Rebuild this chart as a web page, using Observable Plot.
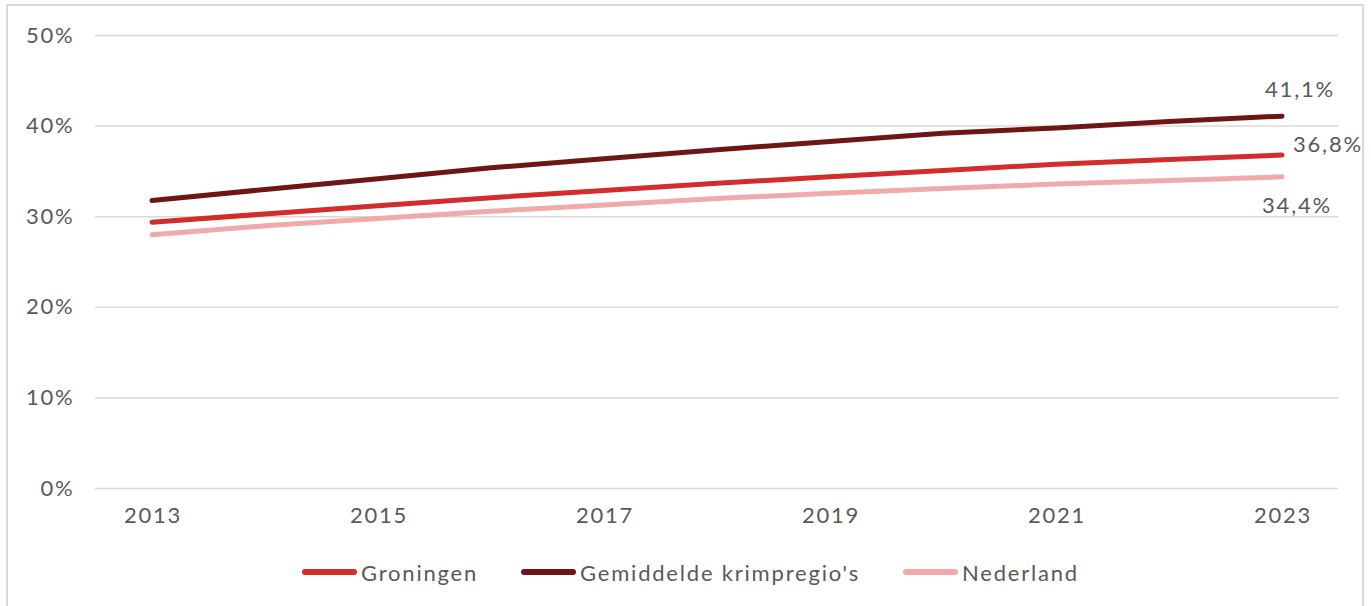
<!DOCTYPE html>
<html>
<head>
<meta charset="utf-8">
<script src="https://cdn.jsdelivr.net/npm/d3@7"></script>
<script src="https://cdn.jsdelivr.net/npm/@observablehq/plot@0.6"></script>
<style>
  html, body { margin: 0; padding: 0; background: #fff; }
  body { width: 1371px; height: 606px; overflow: hidden; position: relative; font-family: "Lato", sans-serif; }
  #frame { position: absolute; left: 6px; top: 4px; width: 1358px; height: 640px; border: 2px solid #d9d9d9; box-sizing: border-box; pointer-events: none; }
  #chart { position: absolute; left: 0; top: 0; }
  #legend { position: absolute; left: 0; top: 558px; width: 1371px; height: 28px; }
  .item { position: absolute; top: 0; height: 28px; display: flex; align-items: center; font-size: 22px; letter-spacing: 1.8px; color: #595959; }
  .sw { width: 55px; height: 6px; border-radius: 3px; margin-right: 4px; }
</style>
</head>
<body>
<div id="frame"></div>
<div id="chart"></div>
<div id="legend"></div>
<script>
const years = [2013, 2014, 2015, 2016, 2017, 2018, 2019, 2020, 2021, 2022, 2023];
const seriesNames = ["Groningen", "Gemiddelde krimpregio's", "Nederland"];
const groningen = [29.4, 30.3, 31.2, 32.1, 32.9, 33.7, 34.4, 35.1, 35.8, 36.3, 36.8];
const krimp = [31.8, 33.0, 34.2, 35.4, 36.4, 37.4, 38.3, 39.2, 39.8, 40.5, 41.1];
const nederland = [28.0, 29.0, 29.8, 30.6, 31.3, 32.0, 32.6, 33.1, 33.6, 34.0, 34.4];
const xTicks = [2013, 2015, 2017, 2019, 2021, 2023];
const yTicks = [0, 10, 20, 30, 40, 50];
const colors = ["#d42b2b", "#6e1515", "#f0aaaa"];
const endLabels = ["36,8%", "41,1%", "34,4%"];

const valuesBySeries = [groningen, krimp, nederland];
const rows = [];
seriesNames.forEach((s, i) => years.forEach((y, j) => rows.push({series: s, year: y, value: valuesBySeries[i][j]})));
const ends = seriesNames.map((s, i) => ({series: s, year: years[years.length - 1], value: valuesBySeries[i][years.length - 1], label: endLabels[i]}));

const textColor = "#595959";
const fs = 22;

const plot = Plot.plot({
  width: 1371,
  height: 540,
  marginLeft: 95,
  marginRight: 33,
  marginTop: 35,
  marginBottom: 52,
  style: {fontFamily: "Lato, sans-serif", fontSize: fs + "px", letterSpacing: "1.8px", color: textColor, background: "transparent"},
  x: {domain: [2012.5, 2023.5], ticks: xTicks, tickFormat: d => String(d), tickSize: 0, tickPadding: 19, label: null},
  y: {domain: [0, 50], ticks: yTicks, tickFormat: d => d + "%", tickSize: 0, tickPadding: 23, label: null},
  color: {domain: seriesNames, range: colors},
  marks: [
    Plot.ruleY(yTicks, {stroke: "#d9d9d9", strokeWidth: 1.5}),
    Plot.axisX({ticks: xTicks, tickFormat: d => String(d), tickSize: 0, tickPadding: 19, dx: 1, fontSize: fs, fill: textColor, label: null}),
    Plot.axisY({ticks: yTicks, tickFormat: d => d + "%", tickSize: 0, tickPadding: 21, fontSize: fs, fill: textColor, label: null}),
    Plot.line(rows, {x: "year", y: "value", z: "series", stroke: "series", strokeWidth: 5, strokeLinecap: "round", strokeLinejoin: "round"}),
    Plot.text(ends.filter(d => d.series === "Gemiddelde krimpregio's"), {x: "year", y: "value", text: "label", dx: 18, dy: -26, textAnchor: "middle", fill: textColor, fontSize: fs}),
    Plot.text(ends.filter(d => d.series === "Groningen"), {x: "year", y: "value", text: "label", dx: 11, dy: -10, textAnchor: "start", fill: textColor, fontSize: fs}),
    Plot.text(ends.filter(d => d.series === "Nederland"), {x: "year", y: "value", text: "label", dx: 15, dy: 29, textAnchor: "middle", fill: textColor, fontSize: fs})
  ]
});
document.getElementById("chart").appendChild(plot);

const legendX = [302, 521, 903];
const legend = document.getElementById("legend");
seriesNames.forEach((s, i) => {
  const it = document.createElement("div");
  it.className = "item";
  it.style.left = legendX[i] + "px";
  const sw = document.createElement("div");
  sw.className = "sw";
  sw.style.background = colors[i];
  const tx = document.createElement("span");
  tx.textContent = s;
  it.appendChild(sw);
  it.appendChild(tx);
  legend.appendChild(it);
});
</script>
</body>
</html>
